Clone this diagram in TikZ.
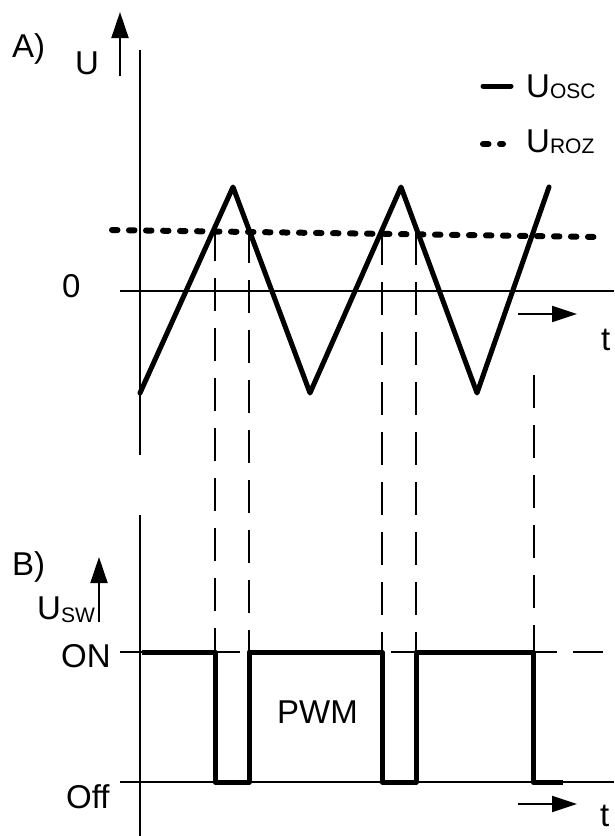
\documentclass[tikz,border=0pt]{standalone}
\usepackage{fontspec}
\setmainfont{Liberation Sans}
\usetikzlibrary{arrows.meta}
\newcommand{\subtxt}[2]{\raisebox{#1}{\fontsize{21}{21}\selectfont #2}}
\begin{document}
\begin{tikzpicture}[x=1pt,y=-1pt,
  axis/.style={line width=2pt},
  sig/.style={line width=5pt, line join=round, line cap=round},
  roz/.style={line width=6pt, line cap=round, dash pattern=on 5.5pt off 11.5pt},
  guide/.style={line width=2.5pt, dash pattern=on 33pt off 17pt},
  arr/.style={line width=2pt, -{Triangle[length=26pt,width=17pt]}},
  tarr/.style={line width=2pt, -{Triangle[length=25pt,width=16pt]}},
  lbl/.style={font=\fontsize{33}{33}\selectfont, inner sep=0pt, anchor=base west},
]
\useasboundingbox (0,0) rectangle (614,836);
% ---------- A) ----------
\node[lbl] (lA) at (12,57) {A)};
\node[lbl] (lU) at (75,74) {U};
\coordinate (uA0) at (120,76);
\coordinate (uA1) at (120,12);
\draw[arr] (uA0) -- (uA1);
\draw[axis] (140,50) -- (140,455);
\draw[axis] (120,291) -- (614,291);
\node[lbl] (l0) at (62,297) {0};
% t arrow top
\coordinate (ta0) at (518,314);
\coordinate (ta1) at (577,314);
\draw[tarr] (ta0) -- (ta1);
\node[lbl] (lt1) at (601,350) {t};
% triangle wave
\draw[sig] (140,393) -- (233,187) -- (310,393) -- (401,187) -- (477,393) -- (549,187);
% reference (dotted)
\draw[roz] (112,230) -- (598,237);
% legend
\draw[line width=5pt, line cap=round] (483,86) -- (511,86);
\node[lbl] (lOSC) at (526,97) {U\subtxt{-1pt}{OSC}};
\draw[roz] (483,144) -- (503,144);
\node[lbl] (lROZ) at (526,152) {U\subtxt{-1pt}{ROZ}};
% guide lines
\draw[guide] (215,228) -- (215,652);
\draw[guide] (249,230) -- (249,652);
\draw[guide] (382,232) -- (382,652);
\draw[guide] (416,232) -- (416,652);
\draw[guide] (534,375) -- (534,652);
% ---------- B) ----------
\node[lbl] (lB) at (12,575) {B)};
\node[lbl] (lUsw) at (37,619) {U\subtxt{-3pt}{SW}};
\coordinate (uB0) at (99,622);
\coordinate (uB1) at (99,557);
\draw[arr] (uB0) -- (uB1);
\draw[axis] (140,515) -- (140,836);
% ON line
\draw[axis] (120,652) -- (240,652);
\draw[axis] (248,652) -- (383,652);
\draw[axis] (391,652) -- (557,652);
\draw[axis] (573,652) -- (603,652);
\node[lbl] (lON) at (61,667) {ON};
% Off line
\draw[axis] (120,782) -- (614,782);
\node[lbl] (lOff) at (66,808) {Off};
% PWM signal
\draw[sig, line cap=butt] (142,652) -- (215,652) -- (215,782) -- (249,782) -- (249,652) -- (382,652) -- (382,782) -- (416,782) -- (416,652) -- (533,652) -- (533,782) -- (563,782);
\node[lbl] (lPWM) at (277,723) {PWM};
% t arrow bottom
\coordinate (tb0) at (518,804);
\coordinate (tb1) at (577,804);
\draw[tarr] (tb0) -- (tb1);
\node[lbl] (lt2) at (600,826) {t};
\end{tikzpicture}
\end{document}
